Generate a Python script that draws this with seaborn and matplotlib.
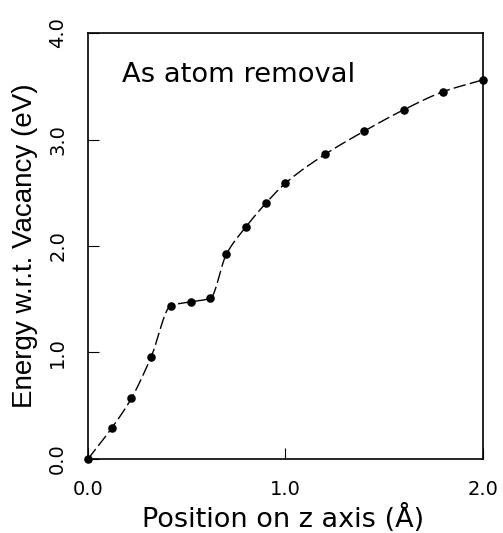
"""
Energy profile for As atom removal along the z axis.
Markers are the computed points; the dashed line is a smooth
monotone (PCHIP-style) curve through them, as in the original figure.
"""

import numpy as np
import pandas as pd
import matplotlib
matplotlib.use("Agg")
import matplotlib.pyplot as plt
import seaborn as sns

# ── Data ──────────────────────────────────────────────────────────────
position = [0.0, 0.12, 0.22, 0.32, 0.42, 0.52, 0.62, 0.70, 0.80,
            0.90, 1.0, 1.2, 1.4, 1.6, 1.8, 2.0]
energy = [0.0, 0.29, 0.57, 0.96, 1.44, 1.475, 1.51, 1.92, 2.18,
          2.40, 2.59, 2.86, 3.08, 3.28, 3.45, 3.56]
x_ticks = [0.0, 1.0, 2.0]
y_ticks = [0.0, 1.0, 2.0, 3.0, 4.0]
tick_labels_x = ["0.0", "1.0", "2.0"]
tick_labels_y = ["0.0", "1.0", "2.0", "3.0", "4.0"]
annotation = "As atom removal"
x_label = "Position on z axis (Å)"
y_label = "Energy w.r.t. Vacancy (eV)"


def smooth_curve(x, y, n=400):
    """Monotone cubic Hermite curve through the points (display only)."""
    x = np.asarray(x, float)
    y = np.asarray(y, float)
    h = np.diff(x)
    d = np.diff(y) / h
    m = np.zeros_like(y)
    m[0], m[-1] = d[0], d[-1]
    for k in range(1, len(x) - 1):
        if d[k - 1] * d[k] > 0:
            w1 = 2 * h[k] + h[k - 1]
            w2 = h[k] + 2 * h[k - 1]
            m[k] = (w1 + w2) / (w1 / d[k - 1] + w2 / d[k])
    xs = np.linspace(x[0], x[-1], n)
    idx = np.clip(np.searchsorted(x, xs) - 1, 0, len(x) - 2)
    t = (xs - x[idx]) / h[idx]
    h00 = 2 * t**3 - 3 * t**2 + 1
    h10 = t**3 - 2 * t**2 + t
    h01 = -2 * t**3 + 3 * t**2
    h11 = t**3 - t**2
    ys = (h00 * y[idx] + h10 * h[idx] * m[idx]
          + h01 * y[idx + 1] + h11 * h[idx] * m[idx + 1])
    return xs, ys


sns.set_theme(style="ticks")
plt.rcParams["font.family"] = ["DejaVu Sans"]

df = pd.DataFrame({"position": position, "energy": energy})
cx, cy = smooth_curve(position, energy)
curve = pd.DataFrame({"position": cx, "energy": cy})

fig = plt.figure(figsize=(5.03, 5.33), dpi=100)
ax = fig.add_axes([0.175, 0.139, 0.785, 0.799])

sns.lineplot(data=curve, x="position", y="energy", ax=ax, color="black",
             linewidth=1.0, sort=False)
ax.lines[0].set_linestyle((0, (9, 3)))
sns.scatterplot(data=df, x="position", y="energy", ax=ax, color="black",
                s=38, edgecolor="black", linewidth=0, zorder=3, clip_on=False)

ax.set_xlim(0.0, 2.0)
ax.set_ylim(0.0, 4.0)
ax.set_xticks(x_ticks)
ax.set_xticklabels(tick_labels_x, fontsize=14)
ax.set_yticks(y_ticks)
ax.set_yticklabels(tick_labels_y, fontsize=14, rotation=90, va="center")
ax.tick_params(direction="in", length=8, width=0.8, color="black",
               labelcolor="black", pad=15)

for spine in ax.spines.values():
    spine.set_visible(True)
    spine.set_linewidth(1.2)
    spine.set_color("black")

ax.set_xlabel(x_label, fontsize=19.5, color="black", va="baseline")
ax.set_ylabel(y_label, fontsize=20, color="black",
              family=["Liberation Sans", "DejaVu Sans"])
ax.xaxis.set_label_coords(0.494, -0.16)
ax.yaxis.set_label_coords(-0.127, 0.5)

ax.text(0.172, 3.54, annotation, fontsize=19.7, color="black",
        ha="left", va="baseline")

fig.savefig("out.png", dpi=100)
plt.close(fig)
